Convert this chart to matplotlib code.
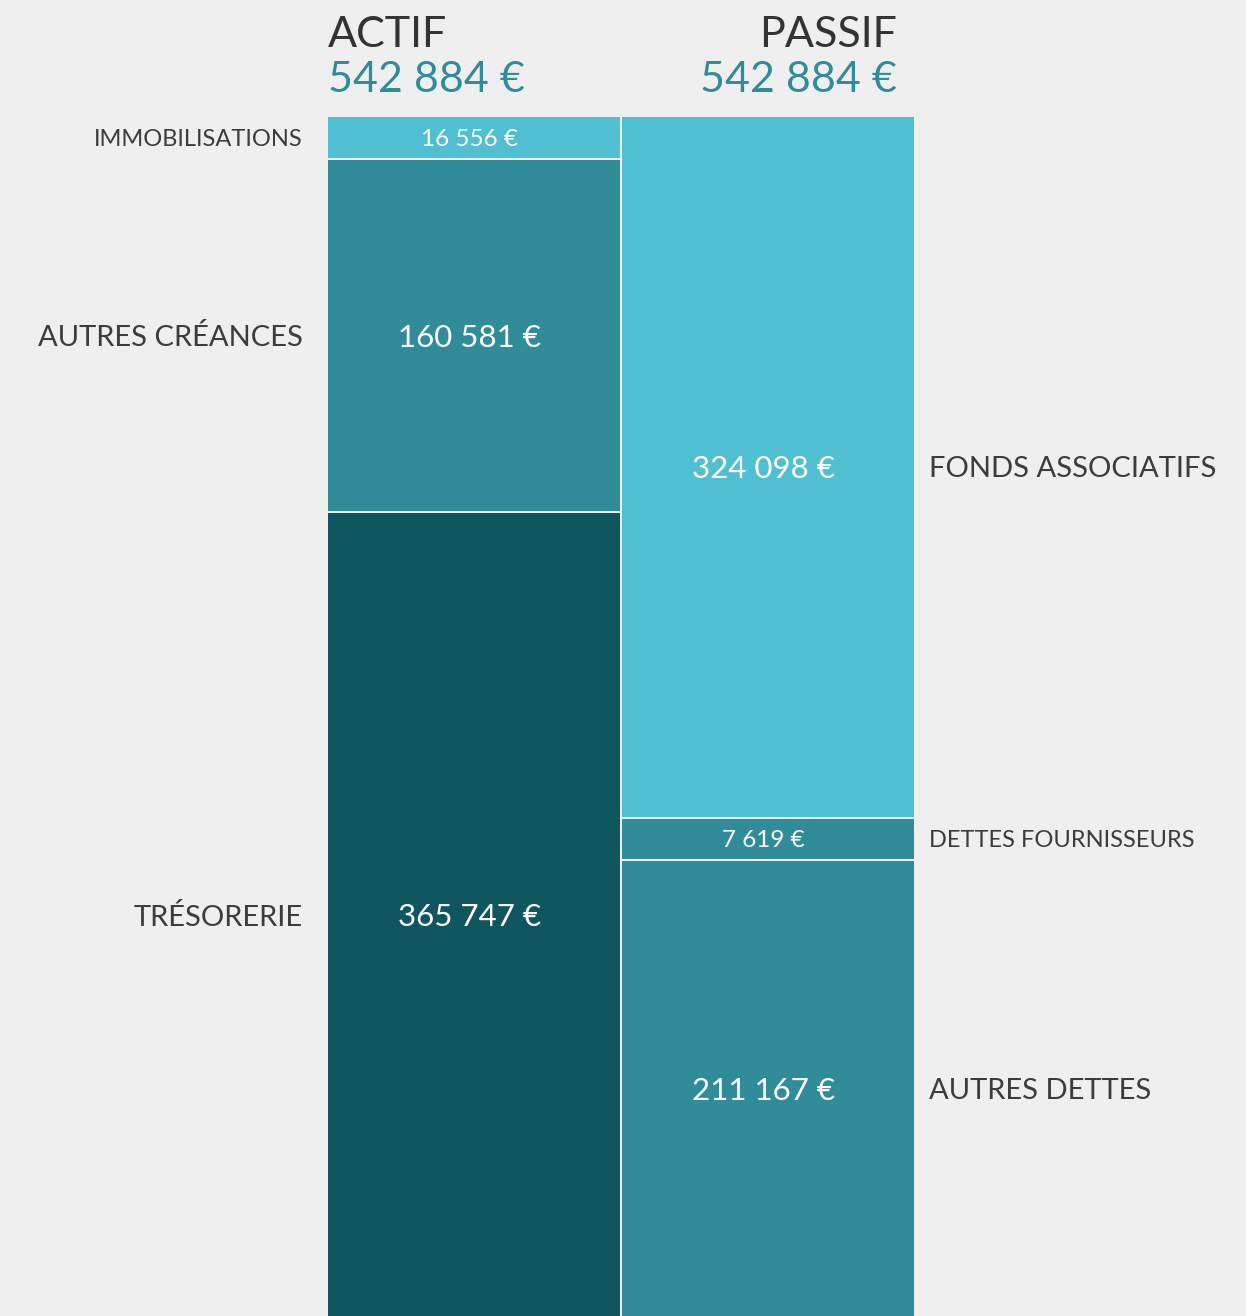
import matplotlib
matplotlib.use('Agg')
import matplotlib.pyplot as plt

# bilan : actif / passif
total = 542884
actif_labels = ['IMMOBILISATIONS', 'AUTRES CRÉANCES', 'TRÉSORERIE']
actif_values = [16556, 160581, 365747]
passif_labels = ['FONDS ASSOCIATIFS', 'DETTES FOURNISSEURS', 'AUTRES DETTES']
passif_values = [324098, 7619, 211167]

actif_colors = ['#4FBFD1', '#318C9A', '#10565E']
passif_colors = ['#4FBFD1', '#318C9A', '#318C9A']

BG = '#EFEFEF'
plt.rcParams['font.family'] = ['Lato', 'DejaVu Sans']

PX = 1201 / total     # pixels par euro (hauteur d'une colonne = 1201 px)
MIN_H = 43 / PX       # hauteur mini d'un bloc
GAP = 2 / PX          # filet blanc entre blocs
BW = 1 - 2 / 294      # largeur des barres (petit espace entre colonnes)
DX = 5 / 294          # petit decalage des montants vers la gauche


def fmt(v):
    return '{:,}'.format(v).replace(',', ' ') + ' €'


fig = plt.figure(figsize=(12.46, 13.16), dpi=100, facecolor=BG)
ax = fig.add_axes([0, 0, 1, 1])
ax.set_facecolor(BG)
ax.set_xlim(-0.5 - 327 / 294, 1.5 + 331 / 294)
ax.set_ylim((1316 - 117) / PX, -117 / PX)
ax.axis('off')


def column(x, labels, values, colors, side):
    shown = [max(v, MIN_H) for v in values]
    k = total / sum(shown)
    bottom = 0
    for lab, v, h, c in zip(labels, values, shown, colors):
        h = h * k
        ax.bar(x, h - GAP, bottom=bottom, width=BW, color=c, linewidth=0,
               align='center')
        mid = bottom + (h - GAP) / 2
        small = v < MIN_H
        ax.text(x - DX, mid, fmt(v), color='white', ha='center',
                va='center_baseline', fontsize=17.5 if small else 22.5)
        if side == 'left':
            ax.text(x - 0.5 - 24 / 294, mid, lab, ha='right',
                    va='center_baseline', color='#3C3C3C',
                    fontsize=17 if small else 21)
        else:
            ax.text(x + 0.5 + 14 / 294, mid, lab, ha='left',
                    va='center_baseline', color='#3C3C3C',
                    fontsize=17 if small else 21)
        bottom += h


column(0, actif_labels, actif_values, actif_colors, 'left')
column(1, passif_labels, passif_values, passif_colors, 'right')

# titres
ax.text(-0.5 + 1 / 294, -70 / PX, 'ACTIF', ha='left', va='baseline',
        color='#333333', fontsize=31)
ax.text(-0.5 + 1 / 294, -25 / PX, fmt(total), ha='left', va='baseline',
        color='#318C9A', fontsize=31)
ax.text(1.5 - 18 / 294, -70 / PX, 'PASSIF', ha='right', va='baseline',
        color='#333333', fontsize=31)
ax.text(1.5 - 18 / 294, -25 / PX, fmt(sum(passif_values)), ha='right',
        va='baseline', color='#318C9A', fontsize=31)

fig.savefig('out.png', dpi=100, facecolor=BG)
